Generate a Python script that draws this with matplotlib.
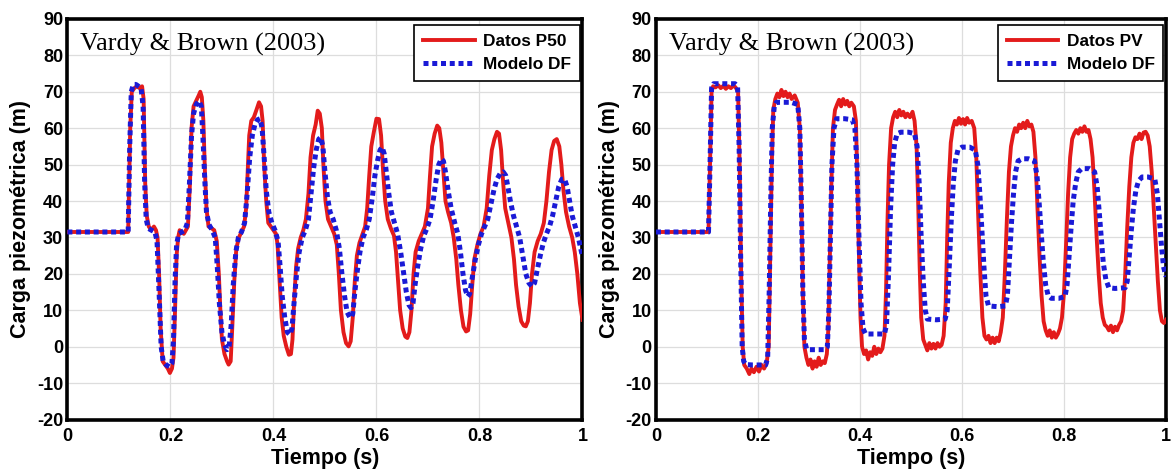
import numpy as np
import matplotlib
matplotlib.use("Agg")
import matplotlib.pyplot as plt

# ---------------- data (left panel) ----------------
t_p50 = [0, 0.118, 0.122, 0.125, 0.13, 0.135, 0.14, 0.145, 0.148, 0.151, 0.154, 0.158, 0.163, 0.168, 0.172,
         0.175, 0.178, 0.181, 0.185, 0.19, 0.195, 0.199, 0.203, 0.206, 0.209, 0.212, 0.215, 0.218, 0.222, 0.226,
         0.23, 0.234, 0.238, 0.241, 0.245, 0.25, 0.255, 0.258, 0.261, 0.264, 0.267, 0.27, 0.274, 0.28, 0.285,
         0.29, 0.294, 0.297, 0.3, 0.305, 0.31, 0.313, 0.317, 0.32, 0.324, 0.328, 0.333, 0.338, 0.343, 0.347,
         0.35, 0.353, 0.357, 0.362, 0.367, 0.372, 0.376, 0.379, 0.382, 0.386, 0.39, 0.395, 0.4, 0.405, 0.408,
         0.412, 0.416, 0.42, 0.425, 0.43, 0.434, 0.437, 0.44, 0.444, 0.448, 0.453, 0.458, 0.463, 0.468, 0.472,
         0.477, 0.482, 0.486, 0.49, 0.494, 0.497, 0.501, 0.506, 0.512, 0.518, 0.523, 0.527, 0.531, 0.536, 0.541,
         0.546, 0.55, 0.554, 0.558, 0.562, 0.567, 0.573, 0.578, 0.582, 0.586, 0.59, 0.595, 0.6, 0.605, 0.609,
         0.613, 0.617, 0.622, 0.628, 0.634, 0.638, 0.642, 0.646, 0.651, 0.656, 0.66, 0.664, 0.668, 0.672, 0.676,
         0.682, 0.688, 0.694, 0.7, 0.704, 0.708, 0.713, 0.718, 0.722, 0.726, 0.73, 0.734, 0.739, 0.745, 0.75,
         0.755, 0.759, 0.764, 0.769, 0.774, 0.778, 0.782, 0.786, 0.79, 0.796, 0.802, 0.808, 0.814, 0.819, 0.824,
         0.829, 0.834, 0.838, 0.842, 0.846, 0.85, 0.856, 0.862, 0.867, 0.871, 0.876, 0.881, 0.886, 0.89, 0.894,
         0.898, 0.902, 0.907, 0.913, 0.919, 0.925, 0.93, 0.935, 0.94, 0.945, 0.95, 0.955, 0.959, 0.963, 0.968,
         0.974, 0.98, 0.985, 0.99, 0.995, 1.0]
h_p50 = [31.5, 31.5, 60, 70, 71, 71.5, 71, 71.5, 68, 45, 36, 33, 32, 33, 32,
         30, 20, 5, -4, -5, -6, -7.2, -6, -3, 10, 25, 30, 32, 31.5, 31,
         32, 33, 45, 60, 66, 67.5, 69, 70, 68.5, 62, 48, 38, 33, 32.5, 32,
         29, 20, 10, 2, -2, -4, -4.9, -4, 5, 18, 27, 30, 31.5, 33, 38,
         48, 58, 62, 63, 65, 67.1, 66, 62, 50, 40, 34, 33, 32, 31, 28,
         18, 8, 3, 0, -2.2, -2, 2, 12, 22, 27, 30, 32, 35, 42, 52,
         58, 61, 64.8, 64, 60, 50, 40, 35, 33, 31, 28, 20, 10, 4, 1,
         0.1, 1.5, 8, 18, 25, 28.5, 31, 33, 38, 47, 55, 59, 62.6, 62.5, 58,
         48, 40, 35, 32.5, 30.5, 26, 18, 10, 5, 2.8, 2.4, 4, 10, 20, 26,
         29, 31, 33, 38, 47, 55, 58.5, 60.7, 60, 56, 48, 40, 37, 34, 30,
         24, 17, 10, 5.5, 4.2, 4.5, 9, 17, 24, 28, 31, 33, 38, 47, 54,
         57, 59, 58.5, 54, 45, 38, 34, 30, 24, 17, 11, 7, 5.8, 5.6, 7,
         12, 20, 26, 29, 31, 34, 40, 48, 54, 56.5, 57, 55, 50, 43, 37,
         33, 30, 26, 20, 12, 7.4]

t_df1 = [0, 0.118, 0.121, 0.124, 0.128, 0.133, 0.138, 0.143, 0.147, 0.15, 0.153, 0.157, 0.163, 0.17, 0.174,
         0.178, 0.182, 0.186, 0.192, 0.198, 0.203, 0.206, 0.209, 0.212, 0.216, 0.222, 0.228, 0.233, 0.237, 0.241,
         0.245, 0.25, 0.255, 0.26, 0.263, 0.267, 0.27, 0.275, 0.281, 0.287, 0.291, 0.295, 0.3, 0.305, 0.31,
         0.314, 0.318, 0.322, 0.327, 0.332, 0.338, 0.344, 0.349, 0.354, 0.359, 0.364, 0.369, 0.374, 0.378, 0.382,
         0.386, 0.391, 0.397, 0.403, 0.409, 0.413, 0.417, 0.422, 0.427, 0.432, 0.436, 0.44, 0.445, 0.45, 0.456,
         0.462, 0.468, 0.473, 0.478, 0.483, 0.488, 0.492, 0.496, 0.5, 0.505, 0.51, 0.516, 0.522, 0.528, 0.533,
         0.538, 0.543, 0.549, 0.554, 0.558, 0.563, 0.568, 0.574, 0.58, 0.586, 0.592, 0.597, 0.602, 0.607, 0.611,
         0.615, 0.619, 0.624, 0.629, 0.635, 0.641, 0.647, 0.653, 0.658, 0.663, 0.667, 0.671, 0.675, 0.68, 0.686,
         0.692, 0.698, 0.704, 0.71, 0.716, 0.721, 0.726, 0.73, 0.734, 0.739, 0.745, 0.752, 0.758, 0.763, 0.768,
         0.773, 0.777, 0.781, 0.786, 0.792, 0.798, 0.804, 0.81, 0.816, 0.822, 0.828, 0.834, 0.84, 0.846, 0.851,
         0.855, 0.86, 0.866, 0.872, 0.878, 0.884, 0.89, 0.896, 0.902, 0.907, 0.912, 0.918, 0.924, 0.93, 0.936,
         0.942, 0.948, 0.954, 0.96, 0.965, 0.97, 0.975, 0.98, 0.986, 0.992, 1.0]
h_df1 = [31.5, 31.5, 55, 70, 72, 72, 71.5, 71, 66, 45, 35, 32.5, 32, 31.5, 29,
         15, 0, -4, -5, -5.5, -4.5, 2, 18, 28, 31, 31.5, 32, 34, 45, 58,
         64, 66.5, 67.5, 66, 58, 45, 37, 33.5, 32, 30, 22, 12, 4, 0.5, -0.8,
         0, 6, 17, 26, 30, 31.5, 34, 42, 52, 58, 61, 62.3, 62.6, 60, 52,
         43, 37, 34, 32, 29, 22, 14, 8, 4, 3.3, 5, 12, 20, 26, 30,
         32, 35, 42, 49, 54, 57, 57.5, 55, 48, 41, 37, 35, 32, 27, 20,
         14, 9.5, 7.9, 9, 15, 21, 26, 30, 32, 35, 41, 47, 51, 54, 54.8,
         53, 48, 42, 37, 34, 31, 26, 20, 15, 11.5, 10.7, 12, 17, 22, 27,
         30.5, 32.5, 35, 40, 46, 50, 51.6, 51, 48, 43, 38, 34, 31, 26, 20,
         15.5, 13.8, 14.5, 19, 24, 28, 31, 33, 35, 39, 43, 46, 47.5, 48, 47,
         44, 40, 36, 33, 30, 25, 20, 17.5, 16.5, 17.5, 21, 25, 28.5, 31, 33,
         36, 40, 44, 46, 46.1, 44, 40, 36, 33, 30, 24.7]

# ---------------- data (right panel) ----------------
t_pv = [0, 0.103, 0.106, 0.109, 0.112, 0.117, 0.122, 0.127, 0.132, 0.137, 0.142, 0.147, 0.152, 0.157, 0.161,
        0.164, 0.167, 0.17, 0.173, 0.178, 0.183, 0.187, 0.192, 0.197, 0.202, 0.207, 0.212, 0.217, 0.221, 0.224,
        0.227, 0.23, 0.234, 0.238, 0.242, 0.246, 0.25, 0.254, 0.258, 0.262, 0.266, 0.272, 0.278, 0.282, 0.285,
        0.288, 0.291, 0.295, 0.299, 0.303, 0.307, 0.311, 0.315, 0.319, 0.323, 0.327, 0.331, 0.335, 0.338, 0.341,
        0.344, 0.347, 0.351, 0.355, 0.359, 0.363, 0.367, 0.371, 0.375, 0.379, 0.383, 0.388, 0.392, 0.395, 0.398,
        0.401, 0.404, 0.408, 0.412, 0.416, 0.42, 0.424, 0.428, 0.432, 0.436, 0.44, 0.444, 0.448, 0.451, 0.454,
        0.457, 0.461, 0.465, 0.469, 0.473, 0.477, 0.481, 0.485, 0.489, 0.493, 0.498, 0.503, 0.507, 0.511, 0.514,
        0.517, 0.52, 0.524, 0.528, 0.532, 0.536, 0.54, 0.544, 0.548, 0.552, 0.556, 0.56, 0.564, 0.568, 0.571,
        0.574, 0.578, 0.582, 0.586, 0.59, 0.594, 0.598, 0.602, 0.606, 0.61, 0.614, 0.619, 0.624, 0.628, 0.632,
        0.636, 0.64, 0.644, 0.648, 0.652, 0.656, 0.66, 0.664, 0.668, 0.672, 0.676, 0.68, 0.684, 0.688, 0.692,
        0.696, 0.7, 0.704, 0.708, 0.712, 0.716, 0.72, 0.724, 0.728, 0.732, 0.736, 0.74, 0.744, 0.748, 0.752,
        0.756, 0.76, 0.764, 0.768, 0.772, 0.776, 0.78, 0.784, 0.788, 0.792, 0.796, 0.8, 0.804, 0.808, 0.812,
        0.816, 0.82, 0.824, 0.828, 0.832, 0.836, 0.84, 0.844, 0.848, 0.852, 0.856, 0.86, 0.864, 0.868, 0.872,
        0.876, 0.88, 0.884, 0.888, 0.892, 0.896, 0.9, 0.904, 0.908, 0.912, 0.916, 0.92, 0.924, 0.928, 0.932,
        0.936, 0.94, 0.944, 0.948, 0.952, 0.956, 0.96, 0.964, 0.968, 0.972, 0.976, 0.98, 0.984, 0.988, 0.992,
        0.996, 1.0]
h_pv = [31.5, 31.5, 50, 70, 71.5, 71.2, 71.8, 71, 71.6, 70.8, 71.5, 71, 71.8, 71, 70,
        50, 20, 0, -5, -6, -7.5, -6, -7, -5.5, -6.8, -5, -6, -4.5, 0, 25,
        50, 65, 68, 69.5, 68.5, 70.5, 68.8, 70, 68.5, 69.5, 68, 69, 67, 60, 40,
        15, 0, -3, -5, -3.5, -6, -4, -5.5, -3, -5, -4, -4.5, -2, 5, 25,
        45, 60, 65, 66.5, 67.8, 66, 68, 66.5, 67.5, 66, 67, 66, 62, 45, 25,
        8, 0, -2, -1, -3.5, -1.5, -2.5, 0, -2, -0.5, -1.5, -0.5, 3, 15, 35,
        50, 60, 63, 64.5, 63, 65, 63.5, 64.5, 63, 64, 63, 64.5, 62, 55, 40,
        22, 8, 2, 0.5, -1, 1, -0.5, 0.8, -0.5, 1, 0, 0.5, 3, 12, 30,
        45, 56, 60, 62, 61, 62.8, 61.2, 62.5, 61, 62.8, 61.5, 62, 60, 52, 35,
        20, 8, 3, 2, 3, 1, 2.5, 1, 2.5, 1.5, 4, 8, 20, 35, 48,
        55, 58, 60, 59, 61, 60, 61.5, 60, 62, 60.5, 61, 59, 52, 38, 25,
        14, 7, 4.5, 3, 4.5, 2.5, 4, 2.5, 3.5, 5, 8, 15, 28, 42, 52,
        57, 58.5, 59.5, 58.5, 60, 59, 60.5, 59, 59.5, 57, 52, 42, 30, 20, 12,
        8, 6, 5.5, 4.5, 5.8, 4, 5.5, 4.5, 6, 7, 10, 20, 33, 44, 52,
        56, 57.5, 57, 58.5, 57, 58.8, 59, 58, 55, 48, 38, 28, 18, 10, 7,
        6.5, 7.4]

t_df2 = [0, 0.103, 0.106, 0.109, 0.113, 0.125, 0.14, 0.155, 0.16, 0.163, 0.166, 0.169, 0.172, 0.176, 0.19,
         0.2, 0.215, 0.219, 0.222, 0.225, 0.228, 0.232, 0.236, 0.25, 0.265, 0.278, 0.282, 0.285, 0.288, 0.291,
         0.295, 0.3, 0.315, 0.33, 0.336, 0.339, 0.342, 0.345, 0.349, 0.354, 0.37, 0.385, 0.39, 0.394, 0.398,
         0.402, 0.406, 0.411, 0.43, 0.448, 0.452, 0.456, 0.46, 0.464, 0.468, 0.473, 0.48, 0.495, 0.507, 0.512,
         0.516, 0.52, 0.524, 0.528, 0.532, 0.55, 0.567, 0.571, 0.575, 0.579, 0.583, 0.587, 0.592, 0.6, 0.615,
         0.626, 0.631, 0.635, 0.639, 0.643, 0.647, 0.652, 0.67, 0.685, 0.689, 0.693, 0.697, 0.701, 0.705, 0.71,
         0.718, 0.73, 0.742, 0.747, 0.751, 0.755, 0.759, 0.764, 0.769, 0.775, 0.79, 0.802, 0.806, 0.81, 0.814,
         0.818, 0.823, 0.828, 0.835, 0.85, 0.86, 0.865, 0.869, 0.873, 0.877, 0.882, 0.888, 0.9, 0.92, 0.924,
         0.928, 0.932, 0.936, 0.941, 0.946, 0.953, 0.965, 0.978, 0.983, 0.987, 0.991, 0.995, 1.0]
h_df2 = [31.5, 31.5, 50, 71, 72.2, 72.2, 72.2, 72.2, 71.5, 55, 25, 0, -4, -4.9, -5,
         -5, -5, -3, 15, 40, 60, 66, 67.1, 67.1, 67.1, 66.5, 60, 40, 15, 2,
         -0.5, -0.8, -0.8, -0.8, 0, 10, 30, 50, 60, 62.6, 62.6, 62.3, 60, 50, 30,
         12, 5, 3.5, 3.5, 3.5, 6, 20, 38, 50, 56, 58.5, 58.9, 58.9, 58.5, 55,
         45, 30, 18, 10, 7.6, 7.4, 7.6, 10, 22, 35, 45, 51, 54, 54.8, 54.8,
         54, 50, 42, 32, 22, 14, 11.2, 11, 11.2, 14, 24, 34, 42, 48, 51,
         51.6, 51.6, 51, 47, 40, 32, 24, 17, 14, 13.3, 13.3, 13.8, 17, 25, 33,
         40, 45, 48, 48.9, 48.9, 48, 44, 37, 30, 23, 18.5, 16.2, 16, 16.2, 18,
         25, 32, 38, 43, 45.5, 46.6, 46.6, 46, 42, 35, 28, 22, 19.2]

x_ticks = [0, 0.2, 0.4, 0.6, 0.8, 1.0]
x_ticklabels = ["0", "0.2", "0.4", "0.6", "0.8", "1"]
y_ticks = list(range(-20, 91, 10))

panels = [
    (t_p50, h_p50, t_df1, h_df1, "Datos P50"),
    (t_pv, h_pv, t_df2, h_df2, "Datos PV"),
]

# ---------------- figure ----------------
plt.rcParams['font.family'] = ['Liberation Sans', 'DejaVu Sans']
plt.rcParams['axes.unicode_minus'] = False
fig = plt.figure(figsize=(11.72, 4.72), dpi=100)
rects = [[0.0575, 0.111, 0.4395, 0.849], [0.5597, 0.111, 0.4352, 0.849]]

RED = '#e31b1b'
BLUE = '#1a1ad6'

for rect, (tr, hr, tb, hb, lab) in zip(rects, panels):
    ax = fig.add_axes(rect)
    ax.plot(tr, hr, color=RED, lw=2.8, label=lab, zorder=3, solid_joinstyle='round')
    ax.plot(tb, hb, color=BLUE, lw=3.6, linestyle=(0, (1.0, 0.75)), dash_capstyle='butt',
            label='Modelo DF', zorder=4)
    ax.set_xlim(0, 1)
    ax.set_ylim(-20, 90)
    ax.set_xticks(x_ticks)
    ax.set_xticklabels(x_ticklabels)
    ax.set_yticks(y_ticks)
    ax.grid(True, color='#dddddd', lw=0.9)
    ax.set_axisbelow(True)
    for s in ax.spines.values():
        s.set_linewidth(2.6)
        s.set_color('black')
    ax.tick_params(axis='both', length=0, labelsize=13)
    ax.tick_params(axis='x', pad=6)
    ax.tick_params(axis='y', pad=3)
    for lbl in ax.get_xticklabels() + ax.get_yticklabels():
        lbl.set_fontweight('bold')
    ax.set_xlabel('Tiempo (s)', fontsize=15.5, fontweight='bold', labelpad=2)
    ax.set_ylabel('Carga piezométrica (m)', fontsize=15.5, fontweight='bold', labelpad=4)
    ax.text(0.025, 0.92, 'Vardy & Brown (2003)', transform=ax.transAxes, fontsize=19,
            family='Liberation Serif', va='baseline', ha='left')
    leg = ax.legend(loc='upper right', prop={'weight': 'bold', 'size': 12.4},
                    fancybox=False, framealpha=1, edgecolor='black', handlelength=3.0,
                    borderpad=0.5, labelspacing=0.5, handletextpad=0.5, borderaxespad=0,
                    bbox_to_anchor=(0.995, 0.985))
    leg.get_frame().set_linewidth(1.2)

fig.savefig('out.png', dpi=100)
